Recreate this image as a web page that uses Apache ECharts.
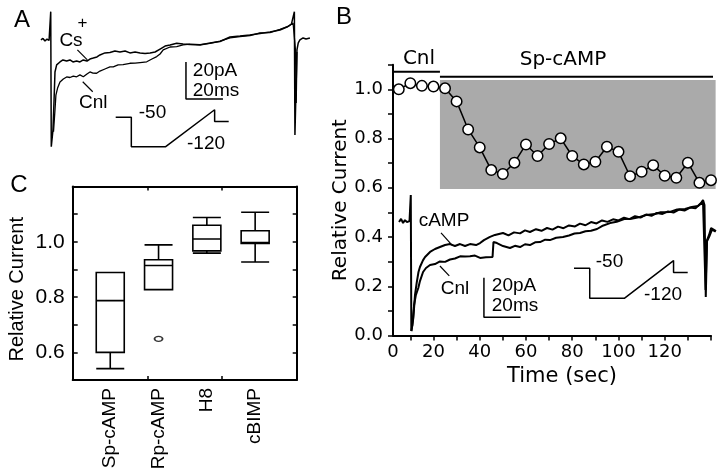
<!DOCTYPE html>
<html><head><meta charset="utf-8">
<script src="https://cdn.jsdelivr.net/npm/echarts@6/dist/echarts.min.js"></script>
<style>html,body{margin:0;padding:0;background:#fff}#c{width:720px;height:472px}</style>
</head><body><div id="c"></div>
<script>
// ---------- Panel B : time course ----------
const timeSec = [5,10,15,20,25,30,35,40,45,50,55,60,65,70,75,80,85,90,95,100,105,110,115,120,125,130,135,140];
const relCurrent = [1.000,1.025,1.014,1.011,1.004,0.951,0.837,0.764,0.672,0.656,0.702,0.776,0.729,0.778,0.801,0.729,0.695,0.706,0.767,0.746,0.647,0.665,0.692,0.649,0.641,0.702,0.620,0.631];
const cnlPeriod = [2.5, 22.8];
const cnlBarLevel = 1.0715;
const spPeriod = [22.8, 142];
const spBarLevel = 1.051;
const shadeRange = [0.595, 1.038];
const bXTicks = [10,20,30,40,50,60,70,80,90,100,110,120,130,140];
const bXLabels = [2.5,20,40,60,80,100,120];
const bYTicks = [0,0.1,0.2,0.3,0.4,0.5,0.6,0.7,0.8,0.9,1.0,1.1];
const bYLabels = [0,0.2,0.4,0.6,0.8,1.0];

// ---------- Panel B inset current traces [ms, pA] ----------
const bTraceCAMP = [[3.3,-16.2],[4.4,-14.6],[5.5,-16.7],[6.5,-15.2],[7.6,-16.2],[9.0,-15.7],[9.5,-15.7],[9.7,-2.5],[10.0,-71.2],[11.1,-64.6],[12.0,-53.0],[12.9,-47.0],[13.9,-41.4],[14.7,-38.9],[16.4,-35.4],[17.5,-33.8],[20.2,-31.3],[22.9,-29.8],[25.6,-28.8],[28.4,-27.8],[31.1,-27.3],[33.8,-28.3],[36.6,-27.3],[39.3,-28.3],[42.0,-27.3],[45.3,-27.8],[47.5,-26.8],[49.6,-25.3],[52.9,-23.7],[55.6,-22.7],[60.0,-21.7],[63.0,-22.9],[66.0,-21.4],[69.3,-21.9],[72.0,-20.4],[74.7,-21.2],[78.0,-19.8],[81.0,-20.6],[84.0,-19.2],[87.0,-20.0],[90.0,-18.5],[93.0,-19.3],[96.0,-17.9],[99.3,-18.4],[102.0,-17.0],[105.0,-17.8],[108.0,-16.2],[111.0,-16.9],[114.0,-15.4],[117.0,-16.1],[120.0,-14.8],[123.0,-15.4],[126.0,-14.0],[129.0,-14.7],[132.0,-13.2],[135.0,-13.9],[138.0,-12.4],[141.0,-13.0],[144.0,-11.6],[147.0,-12.1],[150.0,-10.8],[153.0,-11.4],[156.0,-9.9],[159.0,-10.4],[162.0,-8.9],[165.0,-9.2],[168.0,-6.6],[169.1,-5.1],[169.9,-7.6],[170.6,-54.0],[171.3,-25.3],[172.4,-22.7],[173.5,-19.2],[174.5,-18.7],[176.2,-20.7]];
const bTraceCnl = [[10.0,-71.2],[10.6,-68.2],[11.5,-58.1],[12.5,-53.0],[13.8,-49.5],[14.7,-46.0],[16.4,-41.4],[18.0,-39.4],[20.2,-37.9],[22.9,-37.4],[25.6,-36.1],[28.4,-36.3],[31.1,-35.1],[33.8,-34.6],[36.6,-33.5],[39.3,-33.6],[42.0,-33.5],[44.7,-33.1],[47.5,-34.3],[50.7,-34.0],[54.3,-33.8],[54.8,-26.3],[56.7,-26.8],[60.0,-28.3],[63.8,-29.3],[66.5,-28.2],[69.3,-28.8],[72.0,-27.4],[74.7,-27.8],[77.5,-26.4],[80.2,-26.3],[83.0,-25.1],[85.6,-25.3],[89.0,-24.1],[92.7,-23.7],[96.0,-23.0],[99.0,-22.0],[102.0,-21.7],[105.0,-20.8],[108.0,-20.6],[111.3,-19.7],[114.0,-18.2],[118.4,-16.7],[122.0,-16.0],[126.5,-14.6],[130.0,-14.5],[134.7,-13.6],[138.0,-12.6],[142.9,-12.1],[146.0,-11.2],[151.1,-11.1],[155.0,-9.8],[159.3,-9.6],[163.0,-8.6],[166.4,-8.1],[169.1,-6.1],[169.9,-7.1],[170.5,-50.5],[171.2,-26.0],[172.5,-23.5],[174.0,-20.0],[176.0,-21.0]];
const bScaleBar = [[49.6,-44.3],[49.6,-64.3],[69.6,-64.3]];
const bLeaderCAMP = [[26.2,-21.7],[32.2,-27.8]];
const bLeaderCnl = [[25.6,-38.4],[30.7,-43.4]];

// ---------- Voltage protocol [ms, mV] ----------
const protoT = [-20,10,10,76,170,170,197];
const protoV = [-50,-50,-120,-120,-32,-60,-60];

// ---------- Panel A traces [ms, pA] ----------
const aTraceCs = [[0.5,-21.6],[1.6,-20.8],[2.7,-22.2],[3.8,-21.1],[4.9,-21.9],[5.7,-21.6],[5.8,-6.3],[6.1,-79.3],[7.0,-70.3],[7.6,-54.1],[8.1,-38.9],[9.0,-35.1],[10.8,-33.5],[12.4,-32.4],[14.4,-33.0],[16.2,-32.4],[17.8,-33.5],[19.8,-33.0],[21.6,-33.5],[23.4,-32.4],[25.4,-33.0],[27.0,-31.9],[28.8,-31.4],[30.8,-30.8],[32.4,-29.7],[35.1,-28.6],[37.8,-28.4],[40.5,-27.6],[43.2,-28.1],[46.0,-27.6],[48.6,-28.6],[51.4,-28.1],[54.1,-28.6],[56.8,-28.9],[59.5,-28.6],[62.2,-28.1],[64.9,-26.5],[67.6,-24.9],[70.3,-24.3],[73.9,-23.4],[77.3,-23.8],[81.1,-24.1],[86.5,-24.3],[91.9,-23.2],[97.3,-22.4],[102.7,-20.0],[108.1,-19.5],[113.5,-18.9],[118.9,-18.1],[124.3,-17.3],[129.7,-16.2],[133.5,-14.6],[135.9,-13.0],[136.8,-12.3],[137.5,-6.3],[137.8,-73.0],[138.9,-27.0],[139.6,-23.2],[140.5,-21.6],[142.2,-20.5],[143.8,-21.1],[145.9,-20.5]];
const aTraceCnl = [[7.3,-71.2],[8.1,-59.5],[8.6,-51.4],[9.5,-47.6],[10.8,-44.3],[12.6,-42.7],[14.4,-41.6],[16.2,-41.9],[18.0,-41.1],[19.8,-41.5],[21.6,-40.5],[23.4,-41.5],[25.4,-40.0],[27.0,-38.9],[28.6,-39.5],[30.6,-39.6],[32.4,-38.4],[35.1,-37.3],[37.8,-36.2],[39.6,-36.1],[42.2,-35.1],[44.9,-34.9],[48.6,-34.2],[51.4,-34.1],[54.1,-33.8],[57.7,-33.4],[60.5,-31.9],[63.1,-30.6],[64.9,-29.2],[66.6,-27.0],[70.3,-25.4],[73.9,-25.2],[77.3,-24.3],[81.1,-23.8],[86.5,-24.1],[91.9,-23.5],[97.3,-22.2],[102.7,-20.5],[108.1,-19.8],[113.5,-19.2],[118.9,-17.8],[124.3,-17.6],[129.7,-15.9],[134.1,-14.3],[136.8,-12.4],[138.1,-27.0],[138.5,-55.7],[138.9,-28.1]];
const aScaleBar = [[78.9,-33.5],[78.9,-53.5],[98.9,-53.5]];
const aLeaderCs = [[20.2,-27.0],[25.6,-32.4]];
const aLeaderCnl = [[23.1,-44.2],[28.5,-49.6]];

// ---------- Panel C : box plot ----------
const cCategories = ['Sp-cAMP','Rp-cAMP','H8','cBIMP'];
// [min, Q1, median, Q3, max]
const cBoxData = [
  [0.541,0.600,0.787,0.889,0.889],
  [0.827,0.827,0.914,0.935,0.989],
  [0.959,0.967,1.010,1.060,1.088],
  [0.927,0.994,0.997,1.040,1.107]
];
const cOutliers = [['Rp-cAMP',0.649]];
const cYTicks = [0.6,0.7,0.8,0.9,1.0,1.1];
const cYLabels = [0.6,0.8,1.0];

// ---------------------------------------------------------
const black = '#000';
const FL = '"Liberation Sans", Arial, sans-serif';
const FD = '"DejaVu Sans", sans-serif';
const chart = echarts.init(document.getElementById('c'));

function lineS(data, xi, w, extra){
  return Object.assign({type:'line', xAxisIndex:xi, yAxisIndex:xi, data:data, symbol:'none', showSymbol:false,
    lineStyle:{color:black, width:w}, itemStyle:{color:black}, silent:true, animation:false, z:3}, extra||{});
}
function hid(gi, min, max){ return {type:'value', gridIndex:gi, min:min, max:max, show:false}; }
function txt(text, x, y, size, fam){
  return {type:'text', x:x, y:y, silent:true, z:20,
    style:{text:text, font:size+'px '+fam, fill:black, align:'center', verticalAlign:'middle', textAlign:'center', textVerticalAlign:'middle'}};
}
const protoData = protoT.map((t,i)=>[t, protoV[i]]);

const option = {
  animation:false,
  backgroundColor:'#fff',
  grid:[
    {left:393, top:64.7, width:318, height:270.8},
    {left:393, top:190, width:330, height:148.5},
    {left:574, top:255.4, width:113.7, height:47.2},
    {left:40, top:0, width:277.5, height:166.5},
    {left:115.7, top:104.7, width:113, height:46.2},
    {left:72.7, top:186.5, width:224, height:193.5},
    {left:86.1, top:186.5, width:193.2, height:193.5}
  ].map(g=>Object.assign({outerBoundsMode:'none', containLabel:false}, g)),
  xAxis:[
    {type:'value', gridIndex:0, min:2.5, max:140,
     axisLine:{show:true, onZero:false, lineStyle:{color:black, width:2}},
     axisTick:{show:true, customValues:bXTicks, length:5, lineStyle:{color:black, width:1.5}},
     axisLabel:{show:true, customValues:bXLabels, formatter:v=> v===2.5 ? '0' : String(v), color:black, fontFamily:FD, fontSize:18, margin:8},
     splitLine:{show:false},
     name:'Time (sec)', nameLocation:'middle', nameGap:29,
     nameTextStyle:{fontFamily:FD, fontSize:21, color:black, padding:[0,0,0,20]}},
    hid(1, 0, 180),
    hid(2, -20, 197),
    hid(3, 0, 150),
    hid(4, -20, 197),
    {type:'value', gridIndex:5, min:0, max:3, interval:1, position:'bottom',
     axisLine:{show:true, onZero:false, lineStyle:{color:black, width:2}},
     axisTick:{show:true, inside:true, length:4, lineStyle:{color:black, width:1.5}},
     axisLabel:{show:false}, splitLine:{show:false}},
    {type:'value', gridIndex:5, min:0, max:3, interval:1, position:'top',
     axisLine:{show:true, onZero:false, lineStyle:{color:black, width:2}},
     axisTick:{show:true, inside:true, length:4, lineStyle:{color:black, width:1.5}},
     axisLabel:{show:false}, splitLine:{show:false}},
    {type:'category', gridIndex:6, data:cCategories, position:'bottom',
     axisLine:{show:false}, axisTick:{show:false}, splitLine:{show:false},
     axisLabel:{show:true, rotate:90, margin:8, color:black, fontFamily:FL, fontSize:19, interval:0}}
  ],
  yAxis:[
    {type:'value', gridIndex:0, min:0, max:1.1,
     axisLine:{show:true, onZero:false, lineStyle:{color:black, width:2}},
     axisTick:{show:true, customValues:bYTicks, length:5, lineStyle:{color:black, width:1.5}},
     axisLabel:{show:true, customValues:bYLabels, formatter:v=>v.toFixed(1), color:black, fontFamily:FD, fontSize:18, margin:10},
     splitLine:{show:false},
     name:'Relative Current', nameLocation:'middle', nameRotate:90, nameGap:42,
     nameTextStyle:{fontFamily:FD, fontSize:20, color:black}},
    hid(1, -75, 0),
    hid(2, -130, -20),
    hid(3, -90, 0),
    hid(4, -130, -20),
    {type:'value', gridIndex:5, min:0.5, max:1.2, position:'left',
     axisLine:{show:true, onZero:false, lineStyle:{color:black, width:2}},
     axisTick:{show:true, inside:true, customValues:cYTicks, length:5, lineStyle:{color:black, width:1.5}},
     axisLabel:{show:true, customValues:cYLabels, formatter:v=>v.toFixed(1), color:black, fontFamily:FL, fontSize:21, margin:8},
     splitLine:{show:false},
     name:'Relative Current', nameLocation:'middle', nameRotate:90, nameGap:45,
     nameTextStyle:{fontFamily:FL, fontSize:20, color:black, padding:[0,12,0,0]}},
    {type:'value', gridIndex:5, min:0.5, max:1.2, position:'right',
     axisLine:{show:true, onZero:false, lineStyle:{color:black, width:2}},
     axisTick:{show:true, inside:true, customValues:cYTicks, length:4, lineStyle:{color:black, width:1.5}},
     axisLabel:{show:false}, splitLine:{show:false}},
    hid(6, 0.5, 1.2)
  ],
  series:[
    // Panel B shaded application period
    {type:'custom', xAxisIndex:0, yAxisIndex:0, z:1, silent:true, clip:false,
     data:[[spPeriod[0], shadeRange[1], spPeriod[1], shadeRange[0]]],
     encode:{x:[0,2], y:[1,3]},
     renderItem:(params, api)=>{
       const p1 = api.coord([api.value(0), api.value(1)]);
       const p2 = api.coord([api.value(2), api.value(3)]);
       return {type:'rect', shape:{x:p1[0], y:p1[1], width:p2[0]-p1[0], height:p2[1]-p1[1]}, style:{fill:'#aaaaaa'}};
     }},
    lineS([[cnlPeriod[0],cnlBarLevel],[cnlPeriod[1],cnlBarLevel]], 0, 2, {clip:false}),
    lineS([[spPeriod[0],spBarLevel],[spPeriod[1],spBarLevel]], 0, 2.2, {clip:false}),
    {type:'line', xAxisIndex:0, yAxisIndex:0, z:5, silent:true,
     data:timeSec.map((t,i)=>[t, relCurrent[i]]),
     symbol:'circle', symbolSize:10.5, showSymbol:true,
     itemStyle:{color:'#fff', borderColor:black, borderWidth:1.5},
     lineStyle:{color:black, width:1.5}},
    // Panel B inset
    lineS(bTraceCAMP, 1, 2),
    lineS(bTraceCnl, 1, 2),
    lineS(bScaleBar, 1, 1.5),
    lineS(bLeaderCAMP, 1, 1.2),
    lineS(bLeaderCnl, 1, 1.2),
    lineS(protoData, 2, 1.5),
    // Panel A
    lineS(aTraceCs, 3, 1.5),
    lineS(aTraceCnl, 3, 1.3),
    lineS(aScaleBar, 3, 1.5),
    lineS(aLeaderCs, 3, 1.2),
    lineS(aLeaderCnl, 3, 1.2),
    lineS(protoData, 4, 1.5),
    // Panel C
    {type:'boxplot', xAxisIndex:7, yAxisIndex:7, data:cBoxData, boxWidth:[28,28], silent:true,
     itemStyle:{color:'#fff', borderColor:black, borderWidth:1.6}},
    {type:'scatter', xAxisIndex:7, yAxisIndex:7, data:cOutliers, symbol:'circle', symbolSize:[8,5], silent:true,
     itemStyle:{color:'#fff', borderColor:black, borderWidth:1.5}}
  ],
  graphic:[
    txt('A', 22, 20, 24, FL),
    txt('B', 344, 17.5, 24, FL),
    txt('C', 19, 185, 24, FL),
    txt('Cnl', 419, 59, 20, FD),
    txt('Sp-cAMP', 563, 60, 20, FD),
    txt('cAMP', 444, 221, 19, FL),
    txt('Cnl', 455, 289, 19, FL),
    txt('20pA', 514, 286, 19, FL),
    txt('20ms', 515, 306, 19, FL),
    txt('-50', 609.5, 262, 19, FL),
    txt('-120', 663, 295, 19, FL),
    txt('Cs', 71, 41, 19, FL),
    txt('+', 82.5, 23, 17, FL),
    txt('Cnl', 93.3, 102.5, 19, FL),
    txt('20pA', 215, 71, 19, FL),
    txt('20ms', 216, 91, 19, FL),
    txt('-50', 152.5, 113, 19, FL),
    txt('-120', 206, 144, 19, FL)
  ]
};
chart.setOption(option);
</script>
</body></html>
